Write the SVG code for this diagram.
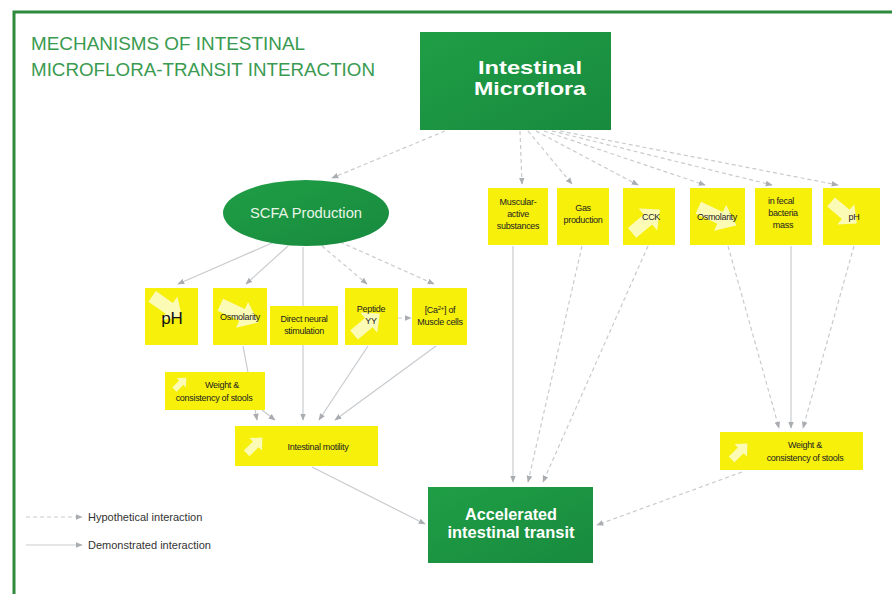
<svg xmlns="http://www.w3.org/2000/svg" width="892" height="594" viewBox="0 0 892 594">
<defs>
<marker id="ah" viewBox="0 0 10 10" refX="9" refY="5" markerWidth="7" markerHeight="7" orient="auto" markerUnits="userSpaceOnUse">
<path d="M0,1 L10,5 L0,9 Z" fill="#a9adb1"/>
</marker>
<linearGradient id="gr" x1="0" y1="0" x2="1" y2="1">
<stop offset="0" stop-color="#1f9e45"/>
<stop offset="1" stop-color="#188a3e"/>
</linearGradient>
<path id="wa" d="M-13,-5 L3,-5 L3,-11 L15,0 L3,11 L3,5 L-13,5 Z"/>
<style>
.frame{stroke:#2f8a3c;stroke-width:3;fill:none}
.title{font-family:"Liberation Sans",Arial,sans-serif;font-size:18px;fill:#3a9a50}
.gbox{fill:url(#gr)}
.gt{font-family:"Liberation Sans",Arial,sans-serif;font-weight:bold;fill:#fff;text-anchor:middle}
.yb{fill:#f6f00a}
.yt{font-family:"Liberation Sans",Arial,sans-serif;font-size:9px;fill:#222;text-anchor:middle;letter-spacing:-0.3px}
.wi{fill:#fff;opacity:0.7}
.c{stroke:#c8cbce;stroke-width:1.2;fill:none;marker-end:url(#ah)}
.h{stroke-dasharray:4 3}
.lg{font-family:"Liberation Sans",Arial,sans-serif;font-size:11px;fill:#333}
</style>
</defs>
<rect width="892" height="594" fill="#fff"/>
<path class="frame" d="M14,594 L14,12 L892,12"/>
<text class="title" x="31" y="50" textLength="274" lengthAdjust="spacingAndGlyphs">MECHANISMS OF INTESTINAL</text>
<text class="title" x="31" y="76" textLength="344" lengthAdjust="spacingAndGlyphs">MICROFLORA-TRANSIT INTERACTION</text>

<g id="connectors">
<path class="c h" d="M445,131 L332,178"/>
<path class="c h" d="M520,131 L522,184"/>
<path class="c h" d="M528,131 L572,184"/>
<path class="c h" d="M536,131 L638,185"/>
<path class="c h" d="M544,131 L705,185"/>
<path class="c h" d="M552,131 L772,185"/>
<path class="c h" d="M560,131 L838,185"/>
<path class="c" d="M272,243 L178,284"/>
<path class="c" d="M288,246 L246,284"/>
<path class="c" d="M303,247 L303,420"/>
<path class="c h" d="M322,246 L367,284"/>
<path class="c h" d="M340,242 L434,284"/>
<path class="c h" d="M398,318 L411,318"/>
<path class="c" d="M243,346 L257,420"/>
<path class="c" d="M262,410 L275,420"/>
<path class="c" d="M368,346 L319,420"/>
<path class="c" d="M436,346 L335,420"/>
<path class="c" d="M312,467 L425,524"/>
<path class="c" d="M513,246 L513,482"/>
<path class="c h" d="M582,246 L528,482"/>
<path class="c h" d="M648,246 L543,482"/>
<path class="c h" d="M728,246 L779,428"/>
<path class="c" d="M791,246 L791,428"/>
<path class="c h" d="M854,246 L803,428"/>
<path class="c h" d="M742,472 L597,525"/>
</g>

<g id="microflora">
<rect class="gbox" x="420" y="32" width="191" height="98"/>
<text class="gt" x="530" y="74" font-size="19" textLength="104" lengthAdjust="spacingAndGlyphs">Intestinal</text>
<text class="gt" x="530" y="95" font-size="19" textLength="112" lengthAdjust="spacingAndGlyphs">Microflora</text>
</g>

<g id="scfa">
<ellipse cx="306" cy="213" rx="83" ry="33" fill="url(#gr)"/>
<text x="306" y="218" font-family="'Liberation Sans',Arial,sans-serif" font-size="14" fill="#e8f5e8" text-anchor="middle" textLength="112" lengthAdjust="spacingAndGlyphs">SCFA Production</text>
</g>

<g id="musc">
<rect class="yb" x="488" y="188" width="60" height="57"/>
<text class="yt" x="518" y="205">Muscular-</text>
<text class="yt" x="518" y="217">active</text>
<text class="yt" x="518" y="229">substances</text>
</g>
<g id="gas">
<rect class="yb" x="557" y="188" width="52" height="57"/>
<text class="yt" x="583" y="211">Gas</text>
<text class="yt" x="583" y="223">production</text>
</g>
<g id="cck">
<rect class="yb" x="623" y="188" width="52" height="57"/>
<use href="#wa" class="wi" transform="translate(645,222) rotate(-40) scale(1.3)"/>
<text class="yt" x="651" y="220">CCK</text>
</g>
<g id="osm-r">
<rect class="yb" x="690" y="188" width="55" height="57"/>
<use href="#wa" class="wi" transform="translate(716,216) rotate(25) scale(1.5,1.3)"/>
<text class="yt" x="717" y="220">Osmolarity</text>
</g>
<g id="fecal">
<rect class="yb" x="755" y="188" width="57" height="57"/>
<text class="yt" x="781" y="204">in fecal</text>
<text class="yt" x="783" y="216">bacteria</text>
<text class="yt" x="783" y="228">mass</text>
</g>
<g id="ph-r">
<rect class="yb" x="823" y="188" width="57" height="57"/>
<use href="#wa" class="wi" transform="translate(843,212) rotate(40) scale(1.2)"/>
<text class="yt" x="854" y="220">pH</text>
</g>

<g id="ph-l">
<rect class="yb" x="145" y="288" width="53" height="57"/>
<use href="#wa" class="wi" transform="translate(166,306) rotate(35) scale(1.3)"/>
<text x="172" y="324" font-family="'Liberation Sans',Arial,sans-serif" font-size="17" fill="#111" text-anchor="middle">pH</text>
</g>
<g id="osm-l">
<rect class="yb" x="213" y="288" width="54" height="57"/>
<use href="#wa" class="wi" transform="translate(238,313) rotate(25) scale(1.5,1.3)"/>
<text class="yt" x="240" y="320">Osmolarity</text>
</g>
<g id="neural">
<rect class="yb" x="270" y="306" width="68" height="39"/>
<text class="yt" x="304" y="322">Direct neural</text>
<text class="yt" x="304" y="334">stimulation</text>
</g>
<g id="pyy">
<rect class="yb" x="345" y="288" width="53" height="57"/>
<use href="#wa" class="wi" transform="translate(366,325) rotate(-40) scale(1.2)"/>
<text class="yt" x="371" y="312">Peptide</text>
<text class="yt" x="371" y="324">YY</text>
</g>
<g id="ca">
<rect class="yb" x="412" y="288" width="55" height="57"/>
<text class="yt" x="440" y="313">[Ca<tspan font-size="6" dy="-3">2+</tspan><tspan dy="3">] of</tspan></text>
<text class="yt" x="440" y="325">Muscle cells</text>
</g>

<g id="weight-l">
<rect class="yb" x="165" y="372" width="100" height="38"/>
<use href="#wa" class="wi" transform="translate(180,384) rotate(-45) scale(0.6)"/>
<text class="yt" x="222" y="388">Weight &amp;</text>
<text class="yt" x="214" y="401">consistency of stools</text>
</g>
<g id="motility">
<rect class="yb" x="235" y="426" width="143" height="40"/>
<use href="#wa" class="wi" transform="translate(254,446) rotate(-45) scale(0.8)"/>
<text class="yt" x="318" y="450">Intestinal motility</text>
</g>
<g id="weight-r">
<rect class="yb" x="720" y="432" width="143" height="38"/>
<use href="#wa" class="wi" transform="translate(739,452) rotate(-45) scale(0.8)"/>
<text class="yt" x="805" y="448">Weight &amp;</text>
<text class="yt" x="805" y="461">consistency of stools</text>
</g>

<g id="accelerated">
<rect class="gbox" x="428" y="487" width="165" height="76"/>
<text class="gt" x="511" y="520" font-size="16" textLength="92" lengthAdjust="spacingAndGlyphs">Accelerated</text>
<text class="gt" x="511" y="538" font-size="16" textLength="127" lengthAdjust="spacingAndGlyphs">intestinal transit</text>
</g>

<g id="legend">
<path class="c h" d="M26,517 L82,517"/>
<path class="c" d="M26,545 L82,545"/>
<text class="lg" x="88" y="521">Hypothetical interaction</text>
<text class="lg" x="88" y="549">Demonstrated interaction</text>
</g>
</svg>
